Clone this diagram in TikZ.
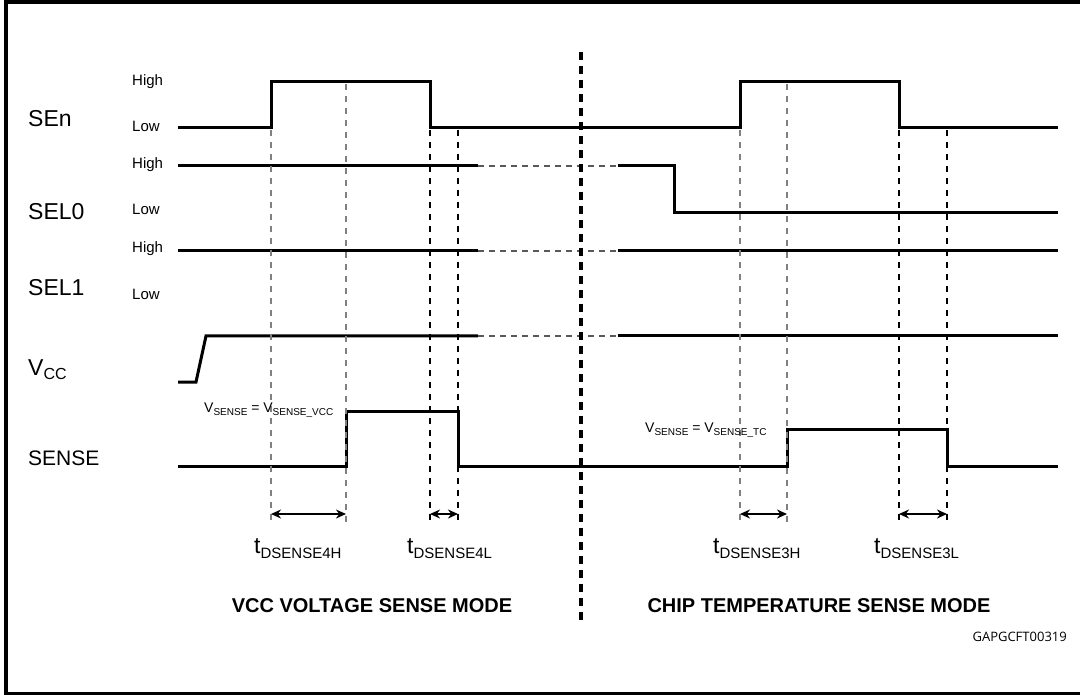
\documentclass[tikz,border=0pt]{standalone}
\usepackage{fontspec}
\setmainfont{Liberation Sans}
\newfontfamily\figidfont{Open Sans}
\usetikzlibrary{arrows.meta}

\newcommand{\fsz}[1]{\fontsize{#1}{#1}\selectfont}
\newcommand{\tsub}[1]{t\raisebox{-5pt}{\fsz{15}#1}}
\newcommand{\vsub}[1]{V\raisebox{-3pt}{\fsz{10}#1}}

\begin{document}
\begin{tikzpicture}
[x=1pt,y=-1pt,
  sigLine/.style={line width=3pt,line join=miter},%
  contDash/.style={line width=1.2pt,black!65,dash pattern=on 6pt off 5pt},%
  edgeGray/.style={line width=1.5pt,black!50,dash pattern=on 6pt off 6pt},%
  edgeBlack/.style={line width=1.3pt,dash pattern=on 6pt off 6pt},%
  modeDiv/.style={line width=3.2pt,dash pattern=on 8pt off 6pt},%
  timeArrow/.style={{Stealth[length=10pt,width=9pt]}-{Stealth[length=10pt,width=9pt]},line width=2.8pt},%
  levelText/.style={anchor=base west,inner sep=0pt,font=\fsz{15}},%
  nameText/.style={anchor=base west,inner sep=0pt,font=\fsz{23}},%
  timeText/.style={anchor=base west,inner sep=0pt,font=\fsz{23}},%
  modeText/.style={anchor=base,inner sep=0pt,font=\fsz{20}\bfseries}]
\useasboundingbox (0,0) rectangle (1080,695);
%% frame
\draw[line width=3.5pt] (1082,2) -- (6,2) -- (6,694) -- (1082,694);

%% signal names and levels
\node[nameText] (sen) at (28,127) {SEn};
\node[nameText] (sel0) at (28,220) {SEL0};
\node[nameText] (sel1) at (28,296) {SEL1};
\node[nameText] (vcc) at (28,375) {V\raisebox{-5pt}{\fsz{16}CC}};
\node[nameText,font=\fsz{21}] (sense) at (28,465) {SENSE};
\foreach \lname/\ltext/\y in {senH/High/86, senL/Low/132, selzH/High/169,
  selzL/Low/215, seloH/High/253, seloL/Low/300}
{
  \node[levelText] (\lname) at (132,\y) {\ltext};
}

%% waveforms
\draw[sigLine] (178,128) -- (271,128) -- (271,82) -- (430,82) -- (430,128)
  -- (740,128) -- (740,82) -- (899,82) -- (899,128) -- (1058,128);
\draw[sigLine] (178,166) -- (478,166);
\draw[sigLine] (618,166) -- (674,166) -- (674,213) -- (1058,213);
\draw[sigLine] (178,251) -- (478,251);
\draw[sigLine] (618,251) -- (1058,251);
\draw[sigLine] (178,382) -- (196,382) -- (206,336) -- (478,336);
\draw[sigLine] (618,336) -- (1058,336);
\draw[sigLine] (178,466) -- (346,466) -- (346,411) -- (458,411) -- (458,466)
  -- (787,466) -- (787,429) -- (947,429) -- (947,466) -- (1058,466);
\foreach \y in {166, 251, 336}
  \draw[contDash] (478,\y) -- (618,\y);

%% edge markers
\foreach \x/\ytop in {271/130, 346/84, 740/130, 787/84}
  \draw[edgeGray] (\x,\ytop) -- (\x,524);
\foreach \x in {430, 458, 899, 947}
  \draw[edgeBlack] (\x,130) -- (\x,524);
\draw[modeDiv] (581,52) -- (581,620);

%% timing arrows
\foreach \cname/\x in {h4a/271, h4b/346, l4a/430, l4b/458,
  h3a/740, h3b/787, l3a/899, l3b/947}
{
  \coordinate (\cname) at (\x,514);
}
\path
\foreach \startnode/\endnode in {h4a/h4b, l4a/l4b, h3a/h3b, l3a/l3b}
{
  (\startnode) edge[timeArrow] (\endnode)
};

%% labels
\node[anchor=base west,inner sep=0pt,font=\fsz{14}] (vsvcc) at (204,412)
  {\vsub{SENSE} = \vsub{SENSE\_VCC}};
\node[anchor=base west,inner sep=0pt,font=\fsz{14}] (vstc) at (645,432)
  {\vsub{SENSE} = \vsub{SENSE\_TC}};
\foreach \tname/\tsubtext/\x in {t4h/DSENSE4H/254, t4l/DSENSE4L/407,
  t3h/DSENSE3H/713, t3l/DSENSE3L/874}
{
  \node[timeText] (\tname) at (\x,553) {\tsub{\tsubtext}};
}
\node[modeText] (vccmode) at (372,612) {VCC VOLTAGE SENSE MODE};
\node[modeText] (chipmode) at (819,612) {CHIP TEMPERATURE SENSE MODE};
\node[anchor=base east,inner sep=0pt,font=\figidfont\fsz{13}] (figid)
  at (1067,641) {GAPGCFT00319};
\end{tikzpicture}
\end{document}
